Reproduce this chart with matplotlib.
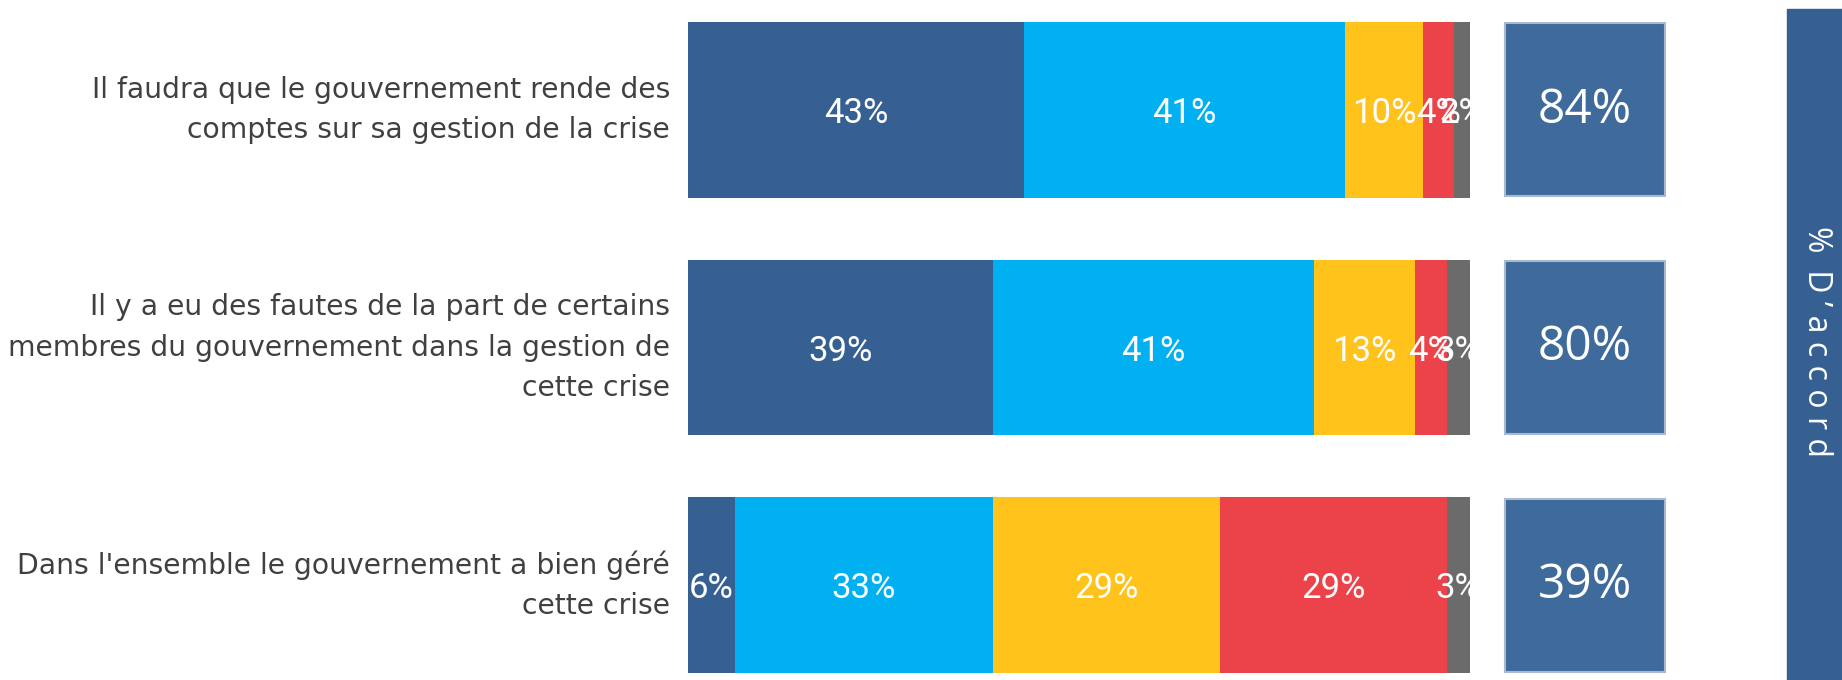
import matplotlib
matplotlib.use("Agg")
import matplotlib.pyplot as plt
from matplotlib.patches import Rectangle
import numpy as np

# Survey statements (top to bottom)
statements = [
    "Il faudra que le gouvernement rende des\ncomptes sur sa gestion de la crise",
    "Il y a eu des fautes de la part de certains\nmembres du gouvernement dans la gestion de\ncette crise",
    "Dans l'ensemble le gouvernement a bien géré\ncette crise",
]

# Answer shares (%) per statement
tout_a_fait = [43, 39, 6]
plutot_oui = [41, 41, 33]
plutot_non = [10, 13, 29]
pas_du_tout = [4, 4, 29]
nsp = [2, 3, 3]

series = [tout_a_fait, plutot_oui, plutot_non, pas_du_tout, nsp]
colors = ["#366092", "#00B0F0", "#FFC31B", "#EC434A", "#6B6B6B"]

# Total agreement = first two answers
accord = [a + b for a, b in zip(tout_a_fait, plutot_oui)]
banner_text = "%  D ’ a c c o r d"

W, H = 1842, 680
fig = plt.figure(figsize=(W / 100, H / 100), dpi=100)
fig.patch.set_facecolor("white")


def px_axes(x0, y0, x1, y1):
    return fig.add_axes([x0 / W, 1 - y1 / H, (x1 - x0) / W, (y1 - y0) / H])


bar_h = 0.74
pad = bar_h / 2
ypos = np.arange(len(statements))

# Stacked bars with in-bar percentages (clipped at the bar end)
ax = px_axes(688, 22, 1470, 673)
left = np.zeros(len(statements))
for vals, col in zip(series, colors):
    vals = np.array(vals, dtype=float)
    ax.barh(ypos, vals, left=left, height=bar_h, color=col,
            edgecolor="none", linewidth=0)
    for y, l, v in zip(ypos, left, vals):
        ax.text(l + v / 2, y + 0.015, f"{int(v)}%", ha="center", va="center",
                color="white", fontsize=25, family=["Roboto", "DejaVu Sans"],
                clip_on=True)
    left += vals
ax.set_xlim(0, 100)
ax.set_ylim(len(statements) - 1 + pad, -pad)
ax.axis("off")

# Statement labels on the left
for y, s in zip(ypos, statements):
    ax.text(-2.3, y, s, ha="right", va="center", color="#404040",
            fontsize=20.3, linespacing=1.57, family="DejaVu Sans",
            clip_on=False)

# Agreement boxes
ax2 = px_axes(1503, 22, 1667, 673)
ax2.barh(ypos, [1] * len(ypos), height=bar_h * 0.985, color="#3E6A9C",
         edgecolor="#A9B9CF", linewidth=1.5)
for y, v in zip(ypos, accord):
    ax2.text(0.5, y, f"{v}%", ha="center", va="center", color="white",
             fontsize=34.5, family="Open Sans")
ax2.set_xlim(-0.01, 1.01)
ax2.set_ylim(len(statements) - 1 + pad, -pad)
ax2.axis("off")

# Vertical banner on the right
fig.patches.append(Rectangle((1787 / W, 0), (W - 1787) / W, 1 - 9 / H,
                             transform=fig.transFigure, color="#366092",
                             zorder=0))
fig.text(1816 / W, 1 - 342 / H, banner_text, rotation=-90, ha="center",
         va="center", color="white", fontsize=23, family="Open Sans")

fig.savefig("out.png", dpi=100, facecolor="white")
